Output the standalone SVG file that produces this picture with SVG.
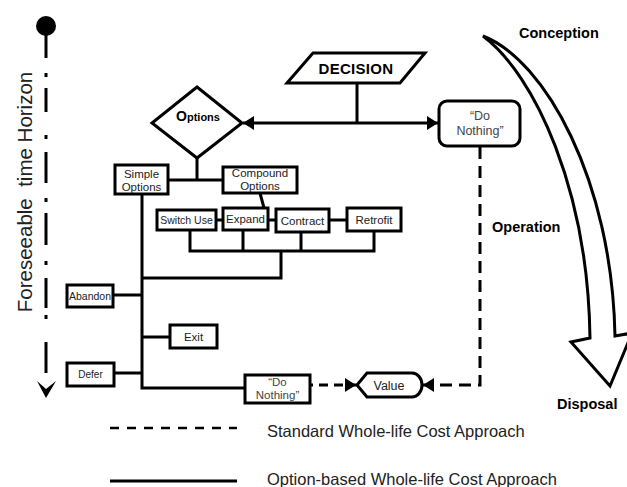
<svg xmlns="http://www.w3.org/2000/svg" width="627" height="487" viewBox="0 0 627 487">
<style>
.box{fill:#fff;stroke:#000;stroke-width:3}
.ln{fill:none;stroke:#000;stroke-width:3}
.dash{fill:none;stroke:#000;stroke-width:3;stroke-dasharray:12 7}
.t{font-family:"Liberation Sans",Arial,sans-serif;fill:#222;text-anchor:middle}
.g{font-family:"Liberation Sans",Arial,sans-serif;fill:#444;text-anchor:middle}
.b{font-family:"Liberation Sans",Arial,sans-serif;font-weight:bold;fill:#000}
.leg{font-family:"Liberation Sans",Arial,sans-serif;fill:#222;font-size:16.5px}
</style>
<defs>
<marker id="ah" viewBox="0 0 11 14" refX="11" refY="7" markerWidth="11" markerHeight="14" markerUnits="userSpaceOnUse" orient="auto-start-reverse">
<path d="M0,0 L11,7 L0,14 Z" fill="#000"/>
</marker>
</defs>

<g id="timeline">
<circle cx="46" cy="26" r="10" fill="#000"/>
<path class="ln" d="M46,34 V58 M46,73 V77 M46,88 V112 M46,135 V139 M46,152 V183 M46,198 V202 M46,213 V245 M46,261 V265 M46,278 V308 M46,315 V319 M46,342 V373"/>
<path d="M37,381 L46,398 L56,381 L46,389 Z" fill="#000"/>
<text class="t" font-size="20.5" fill="#111" transform="translate(32,192) rotate(-90)" x="0" y="0">Foreseeable&#160;&#160;time Horizon</text>
</g>

<g id="lifecycle">
<path d="M483,36 C535,75 588,190 590,338 L571,342 L610,386 L632,333 L615,336 C612,180 545,60 483,36 Z" fill="#fff" stroke="#000" stroke-width="3" stroke-linejoin="miter"/>
<text class="b" font-size="14.5" x="519" y="38">Conception</text>
<text class="b" font-size="14.5" x="492" y="232">Operation</text>
<text class="b" font-size="14.5" x="557" y="409">Disposal</text>
</g>

<g id="connectors">
<line class="ln" x1="357" y1="83" x2="357" y2="123"/>
<line class="ln" x1="243" y1="123" x2="438" y2="123" marker-start="url(#ah)" marker-end="url(#ah)"/>
<polyline class="ln" points="197,158 197,180"/>
<line class="ln" x1="168" y1="180" x2="223" y2="180"/>
<line class="ln" x1="260" y1="193" x2="264" y2="208"/>
<line class="ln" x1="216" y1="220" x2="223" y2="220"/>
<line class="ln" x1="268" y1="220" x2="276" y2="220"/>
<line class="ln" x1="329" y1="220" x2="347" y2="220"/>
<polyline class="ln" points="190,230 190,251 374,251 374,231"/>
<line class="ln" x1="243" y1="230" x2="243" y2="251"/>
<line class="ln" x1="301" y1="232" x2="301" y2="251"/>
<polyline class="ln" points="281,251 281,278 142,278"/>
<polyline class="ln" points="142,194 142,388 245,388"/>
<line class="ln" x1="113" y1="295" x2="142" y2="295"/>
<line class="ln" x1="142" y1="337" x2="170" y2="337"/>
<line class="ln" x1="114" y1="373" x2="142" y2="373"/>
<path d="M311,385 H356" fill="none" stroke="#000" stroke-width="3" stroke-dasharray="2 6 9 6 9 6 9 6" marker-end="url(#ah)"/>
<path class="dash" d="M480,147 V385 H423" marker-end="url(#ah)"/>
</g>

<g id="decision">
<polygon class="box" points="313,53 425,53 400,83 287,83"/>
<text class="b" font-size="15" x="356" y="73.5" text-anchor="middle" letter-spacing="0.3">DECISION</text>
</g>

<g id="options">
<polygon class="box" points="197,87 242,123 197,158 152,123"/>
<text class="b" x="198" y="121" text-anchor="middle" fill="#111"><tspan font-size="14">O</tspan><tspan font-size="11">ptions</tspan></text>
</g>

<g id="do-nothing-top">
<rect class="box" x="439" y="101" width="81" height="45" rx="8"/>
<text class="g" font-size="12.5" x="480" y="120">“Do</text>
<text class="g" font-size="12.5" x="480" y="134.5">Nothing”</text>
</g>

<g id="simple-options">
<rect class="box" x="115" y="165" width="53" height="29"/>
<text class="t" font-size="11.5" x="141.5" y="177.5">Simple</text>
<text class="t" font-size="11.5" x="141.5" y="190.5">Options</text>
</g>

<g id="compound-options">
<rect class="box" x="223" y="167" width="74" height="26"/>
<text class="t" font-size="11.5" x="260" y="177">Compound</text>
<text class="t" font-size="11.5" x="260" y="190">Options</text>
</g>

<g id="switch-use">
<rect class="box" x="157" y="210" width="59" height="20"/>
<text class="t" font-size="10.5" x="186.5" y="224">Switch Use</text>
</g>

<g id="expand">
<rect class="box" x="223" y="208" width="45" height="22"/>
<text class="t" font-size="11.5" x="245.5" y="223">Expand</text>
</g>

<g id="contract">
<rect class="box" x="276" y="209" width="53" height="23"/>
<text class="t" font-size="11.5" x="302.5" y="224.5">Contract</text>
</g>

<g id="retrofit">
<rect class="box" x="347" y="208" width="54" height="23"/>
<text class="t" font-size="11.5" x="374" y="223.5">Retrofit</text>
</g>

<g id="abandon">
<rect class="box" x="67" y="285" width="46" height="22"/>
<text class="t" font-size="10.5" x="90" y="299.5">Abandon</text>
</g>

<g id="exit">
<rect class="box" x="170" y="325" width="47" height="23"/>
<text class="t" font-size="11.5" x="193.5" y="341">Exit</text>
</g>

<g id="defer">
<rect class="box" x="67" y="363" width="47" height="23"/>
<text class="t" font-size="10" x="90.5" y="377.5">Defer</text>
</g>

<g id="do-nothing-bottom">
<rect class="box" x="245" y="375" width="65" height="28"/>
<text class="g" font-size="11.5" x="277.5" y="386">“Do</text>
<text class="g" font-size="11.5" x="277.5" y="399">Nothing”</text>
</g>

<g id="value">
<path class="box" d="M357,385 L367,373 H412 A10,12 0 0 1 412,397 H367 Z"/>
<text class="t" font-size="12.5" x="389" y="389.5">Value</text>
</g>

<g id="legend">
<line x1="110" y1="428" x2="237" y2="428" stroke="#000" stroke-width="2.5" stroke-dasharray="9 8"/>
<text class="leg" x="267" y="437">Standard Whole-life Cost Approach</text>
<line x1="110" y1="481" x2="237" y2="481" stroke="#000" stroke-width="3"/>
<text class="leg" x="267" y="485">Option-based Whole-life Cost Approach</text>
</g>
</svg>
